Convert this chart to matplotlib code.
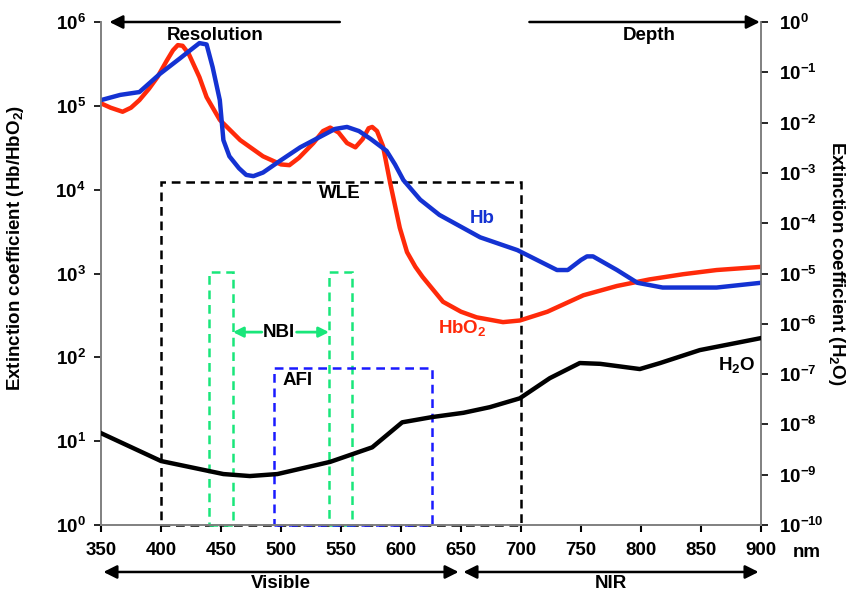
import matplotlib
matplotlib.use("Agg")
import matplotlib.pyplot as plt
from matplotlib.ticker import FixedLocator, FixedFormatter, NullLocator
from matplotlib.patches import Rectangle

plt.rcParams['font.family'] = ['Liberation Sans', 'DejaVu Sans']
plt.rcParams['font.weight'] = 'bold'
plt.rcParams['mathtext.fontset'] = 'custom'
plt.rcParams['mathtext.rm'] = 'Liberation Sans:bold'
plt.rcParams['mathtext.it'] = 'Liberation Sans:bold'
plt.rcParams['mathtext.bf'] = 'Liberation Sans:bold'
plt.rcParams['mathtext.sf'] = 'Liberation Sans:bold'
plt.rcParams['mathtext.default'] = 'rm'

# ---------------- data ----------------
hb_nm = [350, 366, 382, 399, 416, 426, 432, 438, 443, 449, 452, 457, 465, 471, 477,
         485, 499, 516, 533, 545, 555, 565, 575, 588, 595, 602, 616, 632, 666, 697,
         730, 739, 750, 755, 760, 780, 797, 818, 863, 900]
hb_val = [1.17e5, 1.35e5, 1.46e5, 2.4e5, 3.7e5, 4.8e5, 5.6e5, 5.4e5, 2.9e5, 1.17e5,
          3.9e4, 2.5e4, 1.8e4, 1.5e4, 1.45e4, 1.6e4, 2.2e4, 3.2e4, 4.3e4, 5.3e4,
          5.6e4, 5.0e4, 4.0e4, 2.9e4, 2.0e4, 1.3e4, 7.6e3, 5.0e3, 2.7e3, 1.9e3,
          1.1e3, 1.1e3, 1.45e3, 1.6e3, 1.6e3, 1.1e3, 7.75e2, 6.8e2, 6.8e2, 7.75e2]

hbo2_nm = [350, 358, 368, 375, 382, 390, 397, 405, 410, 414, 418, 423, 432, 438, 449,
           466, 485, 500, 507, 515, 527, 535, 541, 548, 555, 562, 568, 573, 576, 580,
           585, 591, 599, 605, 612, 618, 635, 650, 663, 685, 699, 722, 752, 780, 807,
           835, 863, 900]
hbo2_val = [1.07e5, 9.5e4, 8.5e4, 9.5e4, 1.17e5, 1.6e5, 2.2e5, 3.5e5, 4.6e5, 5.3e5,
            5.2e5, 4.2e5, 2.2e5, 1.27e5, 6.8e4, 3.9e4, 2.5e4, 2.0e4, 1.96e4, 2.4e4,
            3.6e4, 5.0e4, 5.5e4, 4.8e4, 3.6e4, 3.2e4, 4.0e4, 5.4e4, 5.6e4, 5.0e4,
            3.3e4, 1.2e4, 3.5e3, 1.8e3, 1.2e3, 9.1e2, 4.6e2, 3.5e2, 3.0e2, 2.63e2,
            2.75e2, 3.5e2, 5.5e2, 7.1e2, 8.5e2, 9.8e2, 1.1e3, 1.2e3]

h2o_nm = [350, 400, 452, 474, 497, 541, 576, 601, 626, 652, 674, 699, 724, 749, 766,
          799, 816, 849, 900]
h2o_val = [6.7e-9, 1.87e-9, 1.03e-9, 9.4e-10, 1.03e-9, 1.8e-9, 3.5e-9, 1.1e-8, 1.4e-8,
           1.7e-8, 2.2e-8, 3.3e-8, 8.3e-8, 1.66e-7, 1.6e-7, 1.26e-7, 1.66e-7, 3.0e-7,
           5.2e-7]

wle_range = (400, 700, 1.23e4)
nbi_ranges = [(440, 460, 1.04e3), (540, 559, 1.04e3)]
afi_range = (494, 626, 74)

x_ticks = [350, 400, 450, 500, 550, 600, 650, 700, 750, 800, 850, 900]
left_ticks = [1e0, 1e1, 1e2, 1e3, 1e4, 1e5, 1e6]
left_labels = ['$10^{0}$', '$10^{1}$', '$10^{2}$', '$10^{3}$', '$10^{4}$', '$10^{5}$', '$10^{6}$']
right_ticks = [1e-10, 1e-9, 1e-8, 1e-7, 1e-6, 1e-5, 1e-4, 1e-3, 1e-2, 1e-1, 1e0]
right_labels = ['$10^{-10}$', '$10^{-9}$', '$10^{-8}$', '$10^{-7}$', '$10^{-6}$', '$10^{-5}$',
                '$10^{-4}$', '$10^{-3}$', '$10^{-2}$', '$10^{-1}$', '$10^{0}$']

top_arrows = [("Resolution", 549, 357, 445), ("Depth", 707, 899, 807)]
bottom_ranges = [("Visible", 352, 648), ("NIR", 652, 898)]

# ---------------- figure ----------------
fig = plt.figure(figsize=(8.54, 5.94), dpi=100)
ax = fig.add_axes([101/854, 1-525/594, 660/854, 503/594])
ax2 = ax.twinx()

RED = '#ff2a0a'
BLUE = '#1432d2'
GREEN = '#19e67a'
GRAY = '#808080'
FS = 13.5

ax.set_xlim(350, 900)
ax.set_yscale('log')
ax.set_ylim(1, 1e6)
ax2.set_yscale('log')
ax2.set_ylim(1e-10, 1)

DASH = (0, (3.5, 2.3))
x0, x1, top = wle_range
ax.add_patch(Rectangle((x0, 1), x1-x0, top-1, fill=False, ls=DASH, lw=1.8,
                       ec='black', clip_on=False, zorder=2))
for (a, b, t) in nbi_ranges:
    ax.add_patch(Rectangle((a, 1), b-a, t-1, fill=False, ls=DASH, lw=1.8,
                           ec=GREEN, clip_on=False, zorder=2))
a, b, t = afi_range
ax.add_patch(Rectangle((a, 1), b-a, t-1, fill=False, ls=DASH, lw=1.8,
                       ec='#1a1aff', clip_on=False, zorder=2))

ax.plot(hbo2_nm, hbo2_val, color=RED, lw=3.2, zorder=4, solid_joinstyle='round')
ax.plot(hb_nm, hb_val, color=BLUE, lw=3.2, zorder=5, solid_joinstyle='round')
ax2.plot(h2o_nm, h2o_val, color='black', lw=3.2, zorder=4, solid_joinstyle='round')

for a_ in (ax, ax2):
    a_.spines['top'].set_visible(False)
    for s in ('left', 'right', 'bottom'):
        a_.spines[s].set_color(GRAY)
        a_.spines[s].set_linewidth(1.2)

ax.xaxis.set_major_locator(FixedLocator(x_ticks))
ax.tick_params(axis='x', direction='out', length=5, width=1.5, color='black',
               labelsize=FS, pad=7)
ax.yaxis.set_major_locator(FixedLocator(left_ticks))
ax.yaxis.set_major_formatter(FixedFormatter(left_labels))
ax.yaxis.set_minor_locator(NullLocator())
ax.tick_params(axis='y', direction='out', length=5, width=1.2, color='black',
               labelsize=FS, pad=6)
ax2.yaxis.set_major_locator(FixedLocator(right_ticks))
ax2.yaxis.set_major_formatter(FixedFormatter(right_labels))
ax2.yaxis.set_minor_locator(NullLocator())
ax2.tick_params(axis='y', direction='out', length=5, width=1.2, color='black',
                labelsize=FS, pad=8)
for lab in ax.get_xticklabels() + ax.get_yticklabels() + ax2.get_yticklabels():
    lab.set_fontweight('bold')

ax.set_ylabel('Extinction coefficient (Hb/HbO$_2$)', fontsize=FS, fontweight='bold')
ax.yaxis.set_label_coords(-0.113, 0.55)
ax2.set_ylabel('Extinction coefficient (H$_2$O)', fontsize=FS, fontweight='bold',
               rotation=270, va='center')
ax2.yaxis.set_label_coords(1.114, 0.52)

for name, xs, xe, xt in top_arrows:
    ax.annotate('', xy=(xe, 1.0), xytext=(xs, 1.0),
                xycoords=('data', 'axes fraction'), textcoords=('data', 'axes fraction'),
                arrowprops=dict(arrowstyle='-|>', lw=1.8, color='black', mutation_scale=20,
                                shrinkA=0, shrinkB=0),
                annotation_clip=False)
    ax.text(xt, 0.974, name, transform=ax.get_xaxis_transform(), ha='center', va='center',
            fontsize=FS, fontweight='bold')

for name, xs, xe in bottom_ranges:
    ax.annotate('', xy=(xe, -0.0934), xytext=(xs, -0.0934),
                xycoords=('data', 'axes fraction'), textcoords=('data', 'axes fraction'),
                arrowprops=dict(arrowstyle='<|-|>', lw=1.8, color='black', mutation_scale=20,
                                shrinkA=0, shrinkB=0),
                annotation_clip=False)
    ax.text((xs+xe)/2, -0.117, name, transform=ax.get_xaxis_transform(), ha='center',
            va='center', fontsize=FS, fontweight='bold')

ax.text(938, -0.054, 'nm', transform=ax.get_xaxis_transform(), ha='center', va='center',
        fontsize=FS, fontweight='bold')

def yl(py):
    return 10**(6-(py-22)/83.8)

ax.text(549, yl(193), 'WLE', ha='center', va='center', fontsize=FS, fontweight='bold')
ax.text(668, yl(218), 'Hb', ha='center', va='center', fontsize=FS,
        fontweight='bold', color=BLUE)
ax.text(651, yl(328), 'HbO$_2$', ha='center', va='center', fontsize=FS,
        fontweight='bold', color=RED)
ax.text(498, yl(332), 'NBI', ha='center', va='center', fontsize=FS, fontweight='bold')
yn = yl(332)
ax.annotate('', xy=(460, yn), xytext=(484, yn),
            arrowprops=dict(arrowstyle='-|>', lw=2.0, color=GREEN, mutation_scale=15,
                            shrinkA=0, shrinkB=0))
ax.annotate('', xy=(540, yn), xytext=(513, yn),
            arrowprops=dict(arrowstyle='-|>', lw=2.0, color=GREEN, mutation_scale=15,
                            shrinkA=0, shrinkB=0))
ax.text(514, yl(380), 'AFI', ha='center', va='center', fontsize=FS, fontweight='bold')
ax.text(880, yl(365), 'H$_2$O', ha='center', va='center', fontsize=FS, fontweight='bold')

fig.savefig('out.png', dpi=100)
